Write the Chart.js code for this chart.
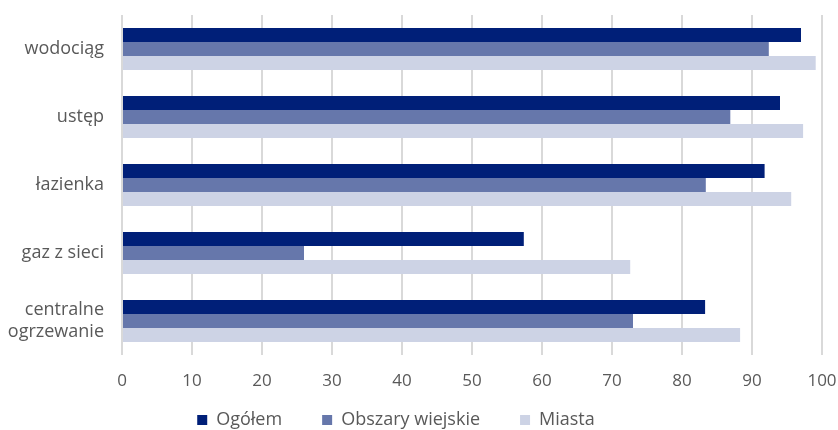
<!DOCTYPE html>
<html>
<head>
<meta charset="utf-8">
<script src="https://cdn.jsdelivr.net/npm/chart.js@4/dist/chart.umd.min.js"></script>
<style>
  html, body { margin: 0; padding: 0; background: #fff; }
  #wrap { width: 838px; height: 430px; }
</style>
</head>
<body>
<div id="wrap"><canvas id="chart"></canvas></div>
<script>
/* ===============================
   DATA
================================ */
const categories = ["wodociąg", "ustęp", "łazienka", "gaz z sieci", ["centralne", "ogrzewanie"]];
const seriesNames = ["Ogółem", "Obszary wiejskie", "Miasta"];
const ogolem = [97.0, 94.0, 91.8, 57.4, 83.3];
const wiejskie = [92.4, 86.9, 83.4, 26.0, 73.0];
const miasta = [99.1, 97.3, 95.6, 72.6, 88.3];
const xTicks = [0, 10, 20, 30, 40, 50, 60, 70, 80, 90, 100];

const colors = ["#001f78", "#6677ab", "#cdd3e5"];
const textColor = "#595959";
const fontFamily = "'Open Sans', 'Noto Sans', sans-serif";

/* ===============================
   LEGEND POSITION TWEAK
================================ */
const legendShift = {
  id: "legendShift",
  afterLayout(chart) {
    const lg = chart.legend;
    const pad = lg.options.labels.padding;
    const fs = lg.options.labels.font.size;
    lg.top = 420 - pad - fs / 2;
    lg.bottom = chart.height;
    lg.left -= 15;
    lg.right -= 15;
  }
};

/* ===============================
   CHART
================================ */
const ctx = document.getElementById("chart").getContext("2d");

new Chart(ctx, {
  type: "bar",
  data: {
    labels: categories,
    datasets: [ogolem, wiejskie, miasta].map((values, i) => ({
      label: seriesNames[i],
      data: values,
      backgroundColor: colors[i],
      borderWidth: 0,
      barPercentage: 1,
      categoryPercentage: 0.62
    }))
  },
  options: {
    indexAxis: "y",
    responsive: true,
    maintainAspectRatio: false,
    animation: false,
    layout: { padding: { top: 15, right: 16, left: 0, bottom: 0 } },
    plugins: {
      tooltip: { enabled: false },
      legend: {
        position: "bottom",
        maxHeight: 40,
        labels: {
          boxWidth: 10,
          boxHeight: 10,
          padding: 40,
          color: textColor,
          font: { family: fontFamily, size: 18 }
        }
      }
    },
    scales: {
      x: {
        min: 0,
        max: 100,
        afterBuildTicks: scale => {
          scale.ticks = xTicks.map(v => ({ value: v }));
        },
        afterFit: scale => {
          const lgH = scale.chart.legend ? scale.chart.legend.height : 0;
          scale.height = scale.chart.height - 355 - lgH;
          scale.paddingLeft = 0;
          scale.paddingRight = 0;
        },
        ticks: {
          padding: 16,
          color: textColor,
          font: { family: fontFamily, size: 17 }
        },
        grid: {
          color: "#d9d9d9",
          lineWidth: 2,
          drawTicks: false
        },
        border: { display: false }
      },
      y: {
        afterFit: scale => {
          scale.width = 122;
          scale.paddingTop = 0;
          scale.paddingBottom = 0;
        },
        ticks: {
          padding: 10,
          color: textColor,
          font: { family: fontFamily, size: 18, lineHeight: 1.2 }
        },
        grid: { display: false },
        border: { display: false }
      }
    }
  },
  plugins: [legendShift]
});
</script>
</body>
</html>
